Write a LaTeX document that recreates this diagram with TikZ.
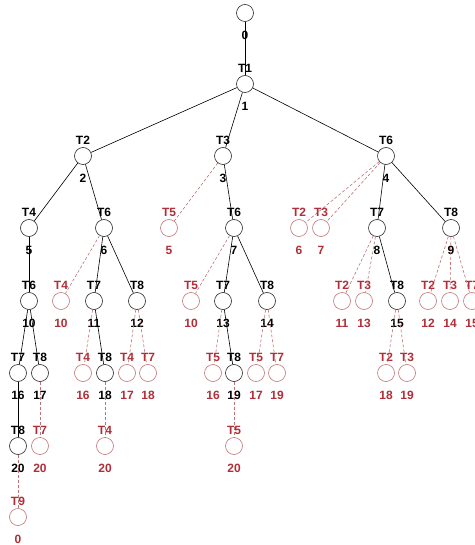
\documentclass[tikz,border=0pt]{standalone}
\usepackage{fontspec}
\setmainfont{Liberation Sans}
\definecolor{tred}{RGB}{176,46,56}
\definecolor{lred}{RGB}{190,115,115}
\tikzset{
every picture/.style={
line width=0.6pt
}}
\tikzset{
busy/.style={circle, draw=black!85, minimum size=17pt, inner sep=0pt},
idle/.style={busy, draw=lred},
tag/.style={inner sep=0pt, label distance=2.2pt, font=\fontsize{12}{14}\selectfont\bfseries},
num/.style={inner sep=0pt, label distance=9.2pt, font=\fontsize{12}{14}\selectfont\bfseries},
cut/.style={lred, dash pattern=on 3pt off 2pt}
}

\begin{document}
\begin{tikzpicture}[x=1pt, y=-1pt]
\useasboundingbox (0,0) rectangle (474,545);

% tree of running tasks
\node[busy, label={[num]below:0}] (s0) at (245,13) {};
\foreach \nr/\px/\py/\tk in {1/245/84/T1, 2/83/156/T2, 3/223/156/T3, 4/386/156/T6,
  5/29/228/T4, 6/104/228/T6, 7/234/228/T6, 8/377/228/T7, 9/451/228/T8,
  10/29/301/T6, 11/94/301/T7, 12/137/301/T8, 13/223/301/T7, 14/267/301/T8, 15/397/301/T8,
  16/18/373/T7, 17/40/373/T8, 18/105/373/T8, 19/234/373/T8, 20/18/446/T8}{
  \node[busy, label={[tag]above:\tk}, label={[num]below:\nr}] (s\nr) at (\px,\py) {};
}
\foreach \pa/\nr in {0/1, 1/2, 1/3, 1/4, 2/5, 2/6, 3/7, 4/8, 4/9, 5/10, 6/11, 6/12,
  7/13, 7/14, 8/15, 10/16, 10/17, 11/18, 13/19, 16/20}
  \draw (s\pa) -- (s\nr);

% pruned branches
\foreach \pa/\tk/\px/\py/\nr in {3/T5/169/228/5, 4/T2/299/228/6, 4/T3/321/228/7,
  6/T4/61/301/10, 7/T5/191/301/10, 8/T2/342/301/11, 8/T3/364/301/13,
  9/T2/428/301/12, 9/T3/450/301/14, 9/T7/472/301/15,
  11/T4/83/373/16, 12/T4/127/373/17, 12/T7/148/373/18, 13/T5/213/373/16,
  14/T5/256/373/17, 14/T7/277/373/19, 15/T2/386/373/18, 15/T3/407/373/19,
  17/T7/40/446/20, 18/T4/105/446/20, 19/T5/234/446/20, 20/T9/18/517/0}{
  \node[idle, label={[tag, tred]above:\tk}, label={[num, tred]below:\nr}] (d\pa\tk) at (\px,\py) {};
  \draw[cut] (s\pa) -- (d\pa\tk);
}

\end{tikzpicture}
\end{document}
